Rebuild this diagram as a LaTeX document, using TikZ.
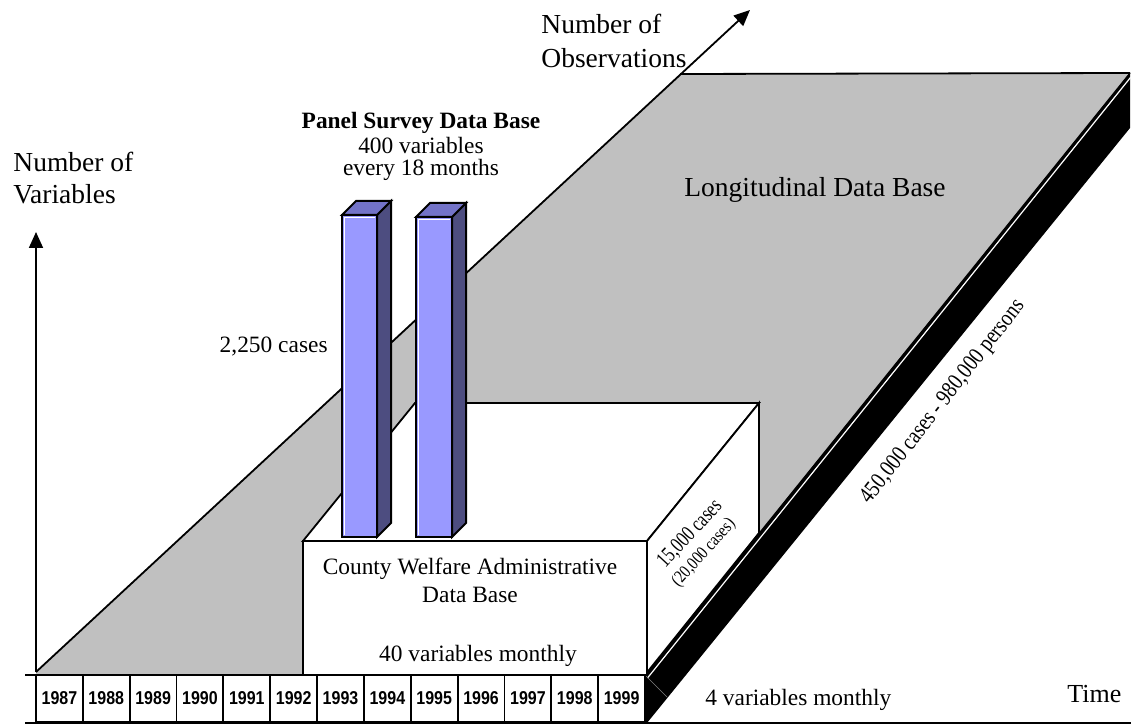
\documentclass[tikz,border=0pt]{standalone}
\usepackage{fontspec}
\usepackage{graphicx}
\setmainfont{Liberation Serif}
\newfontfamily\yearfont[FakeStretch=0.86]{Liberation Sans}
\usetikzlibrary{arrows.meta}
\definecolor{slabgray}{RGB}{192,192,192}
\definecolor{barfront}{RGB}{153,153,255}
\definecolor{bartop}{RGB}{115,115,200}
\definecolor{barside}{RGB}{77,77,128}
\begin{document}
\begin{tikzpicture}[x=0.5pt,y=-0.5pt,
  edge/.style={draw=black,line width=0.9pt,line join=miter},
  barline/.style={draw=black,line width=1pt,line join=miter},
  lbl/.style={inner sep=0pt,font=\fontsize{13.75}{16}\selectfont},
  slbl/.style={inner sep=0pt,font=\fontsize{11.7}{13.5}\selectfont},
  yearcell/.style={draw=black,line width=0.9pt,fill=white,minimum width=23.4pt,minimum height=23.5pt,inner sep=0pt,font=\yearfont\bfseries\fontsize{9.3}{10}\selectfont},
  axis/.style={line width=0.9pt,-{Triangle[length=8pt,width=7pt]}}
]
\useasboundingbox (0,0) rectangle (1132,727);
% slab
\coordinate (O) at (36,672);
\coordinate (TL) at (680,74);
\coordinate (TR) at (1130,73);
\coordinate (FR) at (645,675);
\coordinate (TRb) at (1130,128);
\coordinate (FRb) at (647,723);
\coordinate (FLb) at (645,723);
\fill[slabgray] (O) -- (TL) -- (TR) -- (FR) -- (36,675) -- cycle;
\fill[black] (TR) -- (TRb) -- (FRb) -- (FLb) -- (FR) -- cycle;
\draw[black,line width=0.6pt] (TR) -- (FR);
\coordinate (hlA) at (1130.5,77.5);
\coordinate (hlB) at (647.5,678);
\draw[white,line width=0.6pt] (hlA) -- (hlB);
\coordinate (hlC) at (667,697);
\draw[gray,line width=0.3pt] (FR) -- (hlC);
\draw[edge] (TL) -- (TR);
% axes
\coordinate (obsTip) at (750,10);
\coordinate (varTip) at (36,232);
\coordinate (timeL) at (25,723);
\coordinate (timeR) at (1131,723);
\draw[axis] (O) -- (obsTip);
\draw[axis] (O) -- (varTip);
\draw[line width=0.9pt] (timeL) -- (timeR);
% county box
\coordinate (bFL) at (303,541);
\coordinate (bFR) at (647,541);
\coordinate (bBL) at (415,403);
\coordinate (bBR) at (759,403);
\coordinate (bBRb) at (759,533);
\coordinate (bLB) at (303,675);
\coordinate (bRB) at (647,675);
\filldraw[fill=white,edge] (bFL) -- (bBL) -- (bBR) -- (bFR) -- cycle;
\filldraw[fill=white,edge] (bFR) -- (bBR) -- (bBRb) -- (FR) -- cycle;
\filldraw[fill=white,edge] (bFL) rectangle (bRB);
% bars
\foreach \bx/\by/\bw in {342/215/35, 416/217/36} {
  \filldraw[fill=barfront,barline] (\bx,\by) rectangle ({\bx+\bw},537);
  \draw[white,line width=0.4pt] ({\bx+2.5},535) -- ({\bx+2.5},{\by+2.5}) -- ({\bx+\bw-2},{\by+2.5});
  \filldraw[fill=barside,barline] ({\bx+\bw},\by) -- ({\bx+\bw+14},{\by-14}) -- ({\bx+\bw+14},523) -- ({\bx+\bw},537) -- cycle;
  \filldraw[fill=bartop,barline] (\bx,\by) -- ({\bx+14},{\by-14}) -- ({\bx+\bw+14},{\by-14}) -- ({\bx+\bw},\by) -- cycle;
}
% year strip
\foreach \yr [count=\i from 0] in {1987,1988,1989,1990,1991,1992,1993,1994,1995,1996,1997,1998,1999} {
  \node[yearcell] (y\yr) at ({36+46.85*(\i+0.5)},698.5) {\yr};
}
\coordinate (stripL) at (25,675);
\draw[edge] (stripL) -- (FR);
% labels
\node[lbl,anchor=base west] (nv1) at (13,172) {Number of};
\node[lbl,anchor=base west] (nv2) at (13,204) {Variables};
\node[lbl,anchor=base west] (no1) at (541,34) {Number of};
\node[lbl,anchor=base west] (no2) at (541,68) {Observations};
\node[lbl,anchor=base] (ldb) at (815,197) {Longitudinal Data Base};
\node[slbl,anchor=base] (ps1) at (421,129) {\bfseries Panel Survey Data Base};
\node[slbl,anchor=base] (ps2) at (421,154) {400 variables};
\node[slbl,anchor=base] (ps3) at (421,176) {every 18 months};
\node[slbl,anchor=base east] (c2250) at (328,353) {2,250 cases};
\node[slbl,anchor=base] (cw1) at (470,575) {County Welfare Administrative};
\node[slbl,anchor=base] (cw2) at (470,603) {Data Base};
\node[slbl,anchor=base] (v40) at (478,662) {40 variables monthly};
\node[slbl,anchor=base west] (v4) at (705,705) {4 variables monthly};
\node[inner sep=0pt,anchor=base west,font=\fontsize{13}{15}\selectfont] (time) at (1067,703) {Time};
\node[inner sep=0pt,rotate=52,font=\fontsize{11.7}{13}\selectfont] (c450) at (943,402) {\scalebox{0.83}[1]{450,000 cases - 980,000 persons}};
\node[inner sep=0pt,rotate=47,font=\fontsize{11}{12}\selectfont] (c15) at (690,534) {\scalebox{0.75}[1]{15,000 cases}};
\node[inner sep=0pt,rotate=48,font=\fontsize{9}{10}\selectfont] (c20) at (704,553) {\scalebox{0.82}[1]{(20,000 cases)}};
\end{tikzpicture}
\end{document}
